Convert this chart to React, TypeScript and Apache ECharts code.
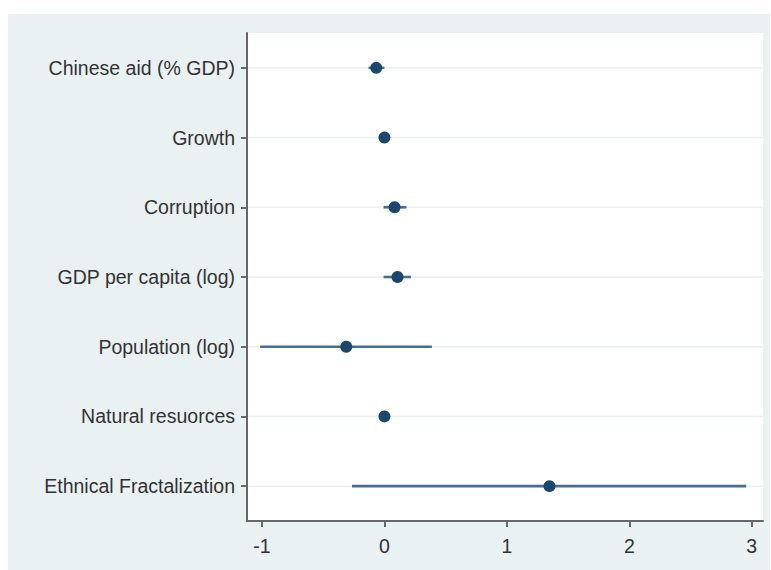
import React, { useEffect, useRef } from "react";
import * as echarts from "echarts";

const categories = [
  "Chinese aid (% GDP)",
  "Growth",
  "Corruption",
  "GDP per capita (log)",
  "Population (log)",
  "Natural resuorces",
  "Ethnical Fractalization",
];
const estimates = [-0.067, 0.0, 0.083, 0.107, -0.312, 0.0, 1.348];
const lower = [-0.13, -0.005, -0.007, -0.007, -1.015, -0.005, -0.265];
const upper = [0.0, 0.005, 0.18, 0.216, 0.388, 0.005, 2.955];
const xTicks = [-1, 0, 1, 2, 3];

const FONT = "'Liberation Sans', Arial, sans-serif";

export default function App() {
  const ref = useRef<HTMLDivElement>(null);
  useEffect(() => {
    if (!ref.current) return;
    const chart = echarts.init(ref.current, undefined, { renderer: "svg" });
    const ciData = categories.map((_, i) => [i, lower[i], upper[i]]);
    const gridData = categories.map((_, i) => [i]);
    chart.setOption({
      animation: false,
      grid: {
        left: 247,
        top: 33,
        right: 8,
        bottom: 49,
        show: true,
        backgroundColor: "#ffffff",
        borderWidth: 0,
      },
      xAxis: {
        type: "value",
        min: -1.1225,
        max: 3.092,
        axisLine: { show: true, onZero: false, lineStyle: { color: "#666", width: 2 } },
        axisTick: {
          show: true,
          length: 6,
          customValues: xTicks,
          lineStyle: { color: "#666", width: 2 },
        },
        axisLabel: {
          customValues: xTicks,
          fontSize: 19.5,
          fontFamily: FONT,
          color: "#333",
          margin: 15,
        },
        splitLine: { show: false },
      },
      yAxis: {
        type: "category",
        inverse: true,
        data: categories,
        boundaryGap: true,
        axisLine: { show: true, onZero: false, lineStyle: { color: "#666", width: 2 } },
        axisTick: {
          show: true,
          length: 6,
          alignWithLabel: true,
          lineStyle: { color: "#666", width: 2 },
        },
        axisLabel: {
          fontSize: 19.5,
          fontFamily: FONT,
          color: "#333",
          margin: 12,
        },
        splitLine: { show: false },
      },
      series: [
        {
          type: "custom",
          silent: true,
          z: 1,
          data: gridData,
          encode: { y: 0 },
          renderItem: (params: any, api: any) => {
            const pt = api.coord([0, api.value(0)]);
            const cs = params.coordSys;
            return {
              type: "line",
              shape: { x1: cs.x + 1, y1: pt[1], x2: cs.x + cs.width, y2: pt[1] },
              style: { stroke: "#e8f0f2", lineWidth: 1.5 },
            };
          },
        },
        {
          type: "custom",
          silent: true,
          z: 2,
          data: ciData,
          encode: { y: 0, x: [1, 2] },
          renderItem: (params: any, api: any) => {
            const a = api.coord([api.value(1), api.value(0)]);
            const b = api.coord([api.value(2), api.value(0)]);
            return {
              type: "line",
              shape: { x1: a[0], y1: a[1], x2: b[0], y2: b[1] },
              style: { stroke: "#4a6d92", lineWidth: 2.6 },
            };
          },
        },
        {
          type: "scatter",
          z: 3,
          symbol: "circle",
          symbolSize: 12,
          itemStyle: { color: "#1a476f", opacity: 1 },
          data: estimates.map((v, i) => [v, i]),
        },
      ],
    });
    return () => chart.dispose();
  }, []);
  return (
    <div style={{ position: "fixed", left: 0, top: 0, width: 771, height: 570, background: "#fff" }}>
      <div
        style={{
          position: "absolute",
          left: 8,
          top: 14,
          width: 762,
          height: 556,
          background: "#eaf1f3",
        }}
      />
      <div ref={ref} style={{ position: "absolute", left: 0, top: 0, width: 771, height: 570 }} />
    </div>
  );
}
